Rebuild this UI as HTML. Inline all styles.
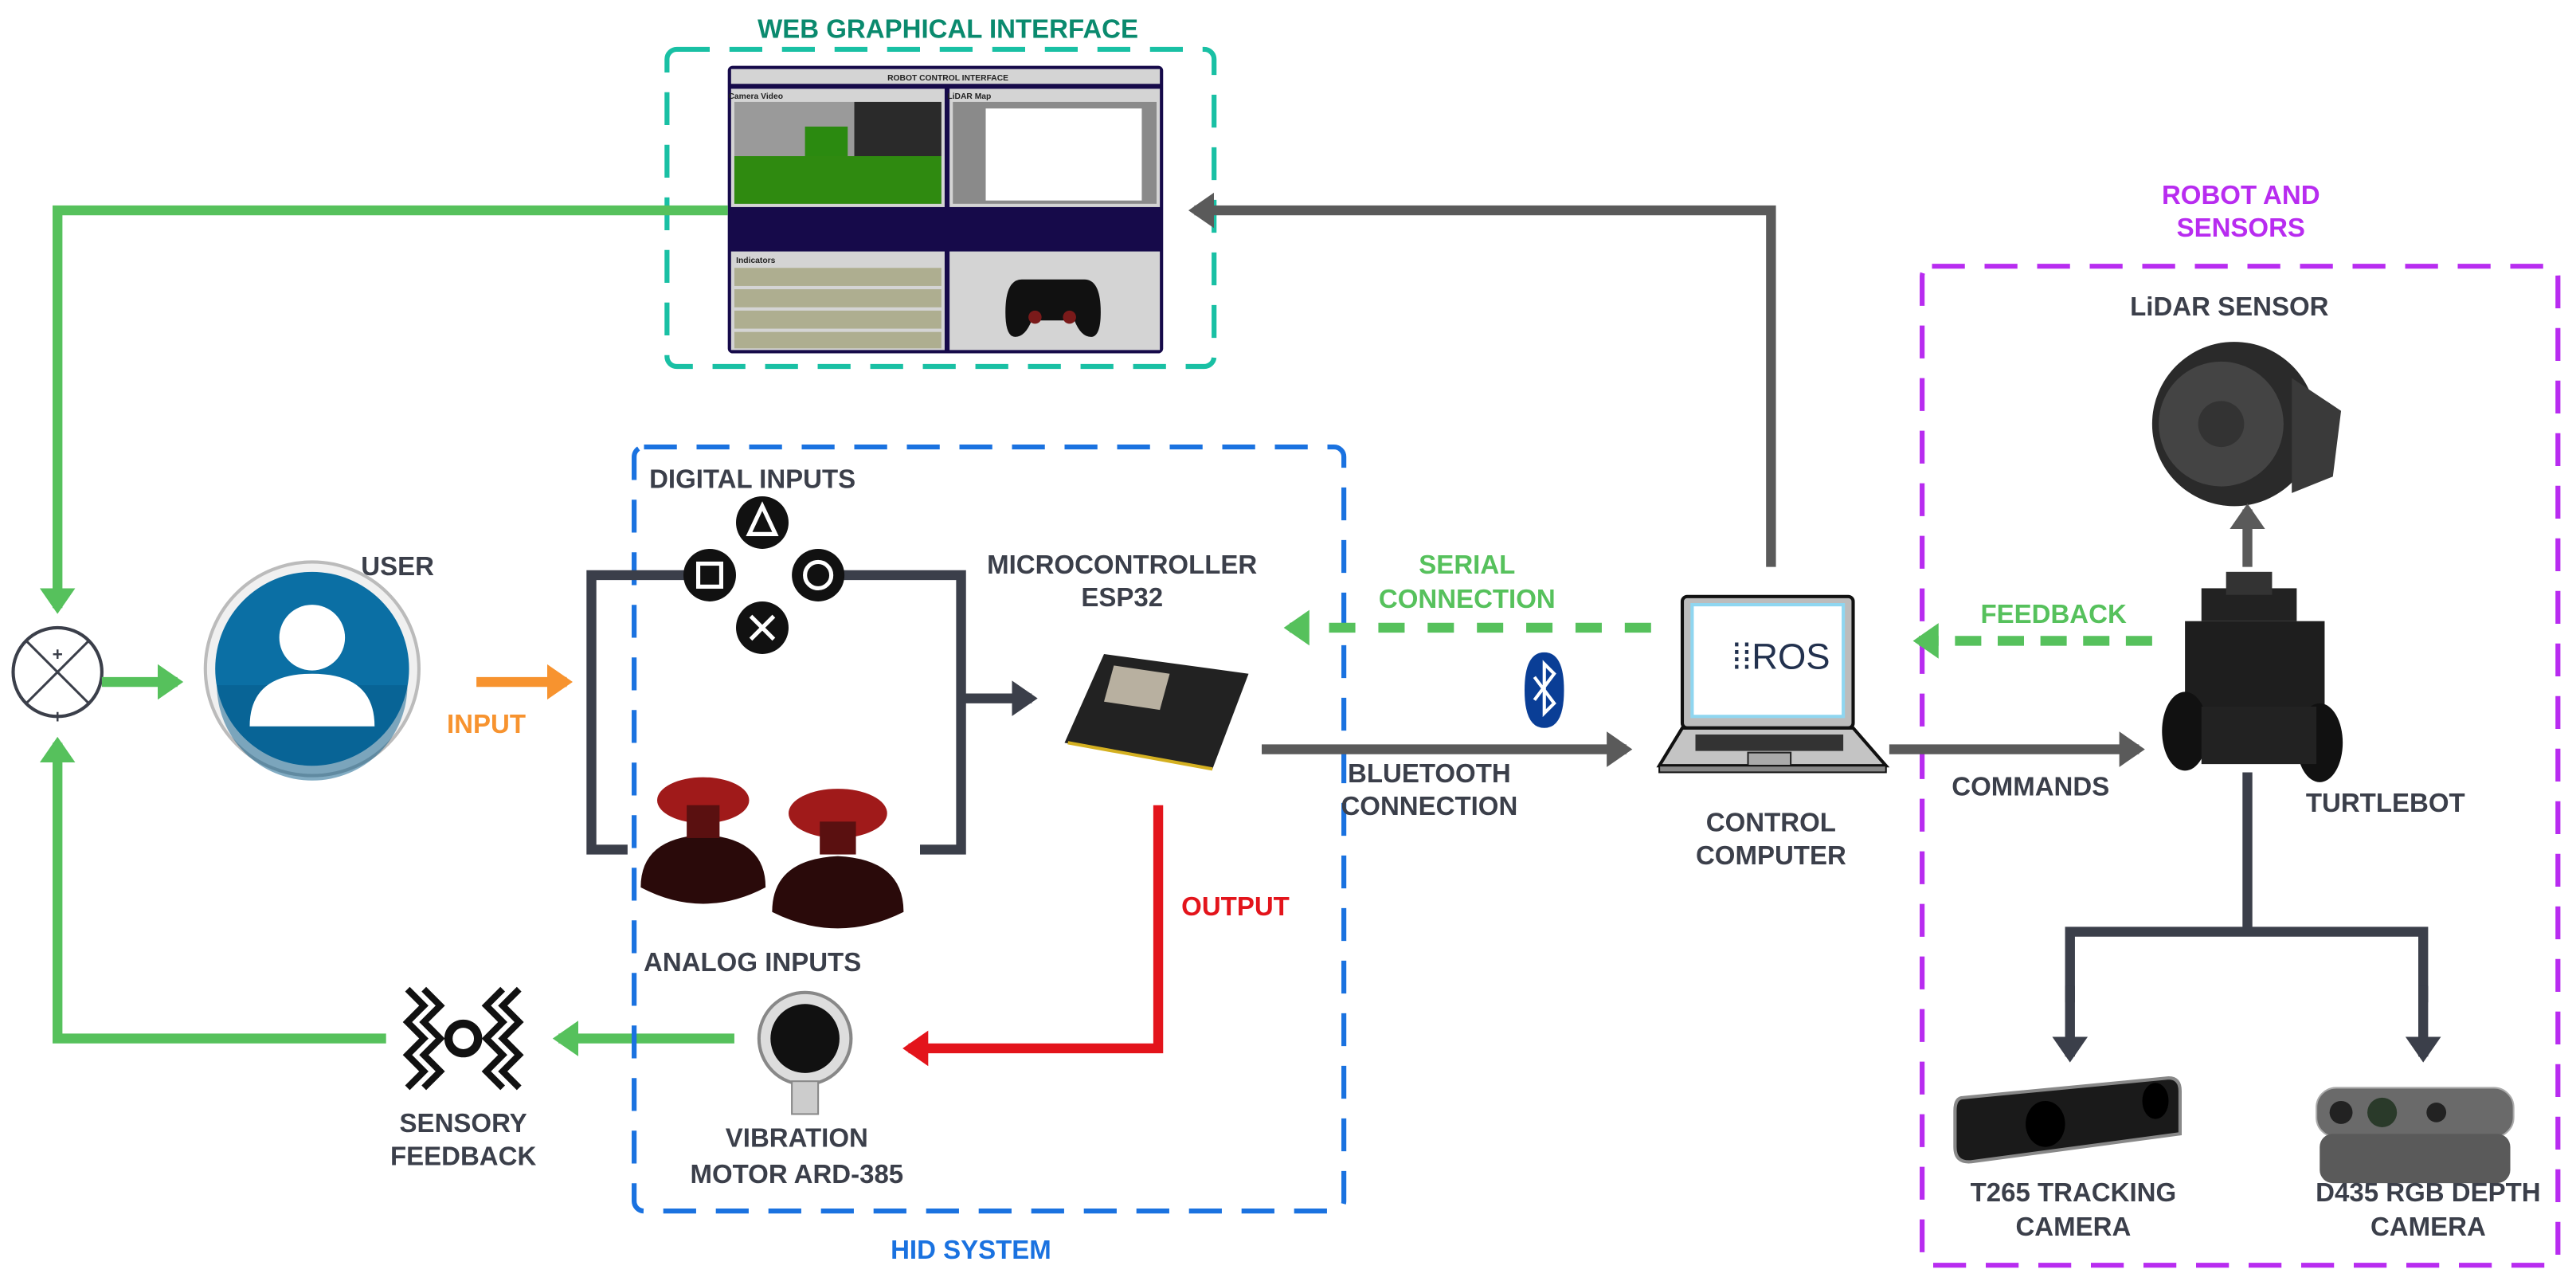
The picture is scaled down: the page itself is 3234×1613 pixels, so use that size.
<!DOCTYPE html>
<html><head><meta charset="utf-8"><style>
html,body{margin:0;padding:0;background:#fff;}
svg{display:block}
text{font-family:"Liberation Sans Narrow","Liberation Sans",sans-serif;font-weight:bold;font-size:16px;text-anchor:middle;fill:#3b3f4a}
</style></head><body>
<svg width="3234" height="1613" viewBox="0 0 1568 782" xmlns="http://www.w3.org/2000/svg">
<defs>
<marker id="ag" markerWidth="4" markerHeight="4" refX="2" refY="2" orient="auto" markerUnits="strokeWidth"><path d="M0,0.2 L2.6,2 L0,3.8Z" fill="#56c15c"/></marker>
<marker id="agr" markerWidth="4" markerHeight="4" refX="2" refY="2" orient="auto" markerUnits="strokeWidth"><path d="M0,0.2 L2.6,2 L0,3.8Z" fill="#5a5a5a"/></marker>
<marker id="ad" markerWidth="4" markerHeight="4" refX="2" refY="2" orient="auto" markerUnits="strokeWidth"><path d="M0,0.2 L2.6,2 L0,3.8Z" fill="#3b3f4a"/></marker>
<marker id="ao" markerWidth="4" markerHeight="4" refX="2" refY="2" orient="auto" markerUnits="strokeWidth"><path d="M0,0.2 L2.6,2 L0,3.8Z" fill="#f7932f"/></marker>
<marker id="ar" markerWidth="4" markerHeight="4" refX="2" refY="2" orient="auto" markerUnits="strokeWidth"><path d="M0,0.2 L2.6,2 L0,3.8Z" fill="#e3141b"/></marker>
</defs>

<!-- Web interface -->
<text x="577" y="23" style="fill:#0a8a6e">WEB GRAPHICAL INTERFACE</text>
<rect x="406" y="30" width="333" height="193" rx="6" fill="none" stroke="#19c0a4" stroke-width="3" stroke-dasharray="20,12"/>
<rect x="443" y="40" width="265" height="175" fill="#160a4a" rx="3"/>
<rect x="445" y="42" width="261" height="9" fill="#d4d4d4"/>
<text x="577" y="49" style="font-size:5px;fill:#222">ROBOT CONTROL INTERFACE</text>
<rect x="445" y="54" width="130" height="72" fill="#d4d4d4"/>
<rect x="447" y="62" width="126" height="62" fill="#9a9a9a"/>
<rect x="447" y="95" width="126" height="29" fill="#2f8a10"/>
<rect x="520" y="62" width="53" height="33" fill="#2a2a2a"/>
<rect x="490" y="77" width="26" height="18" fill="#2b8a10"/>
<rect x="578" y="54" width="128" height="72" fill="#d4d4d4"/>
<rect x="580" y="62" width="124" height="62" fill="#8a8a8a"/>
<rect x="600" y="66" width="95" height="56" fill="#fff"/>
<text x="460" y="60" style="font-size:5px;fill:#222">Camera Video</text>
<text x="590" y="60" style="font-size:5px;fill:#222">LiDAR Map</text>
<rect x="445" y="153" width="130" height="60" fill="#d4d4d4"/>
<rect x="447" y="163" width="126" height="11" fill="#aeae90"/>
<rect x="447" y="176" width="126" height="11" fill="#aeae90"/>
<rect x="447" y="189" width="126" height="11" fill="#aeae90"/>
<rect x="447" y="202" width="126" height="10" fill="#aeae90"/>
<text x="460" y="160" style="font-size:5px;fill:#222">Indicators</text>
<rect x="578" y="153" width="128" height="60" fill="#d4d4d4"/>
<path d="M622,170 h38 q10,0 10,20 q0,15 -6,15 q-6,0 -10,-10 h-26 q-4,10 -10,10 q-6,0 -6,-15 q0,-20 10,-20z" fill="#111"/>
<circle cx="630" cy="193" r="4" fill="#7a1a1a"/><circle cx="651" cy="193" r="4" fill="#7a1a1a"/>

<!-- green feedback loop -->
<polyline points="443,128 35,128 35,370" fill="none" stroke="#56c15c" stroke-width="6" marker-end="url(#ag)"/>
<polyline points="447,632 340,632" fill="none" stroke="#56c15c" stroke-width="6" marker-end="url(#ag)"/>
<polyline points="235,632 35,632 35,452" fill="none" stroke="#56c15c" stroke-width="6" marker-end="url(#ag)"/>
<circle cx="35" cy="409" r="27" fill="#fff" stroke="#3b3f4a" stroke-width="2"/>
<path d="M16,390 L54,428 M54,390 L16,428" stroke="#3b3f4a" stroke-width="1.5"/>
<text x="35" y="402" style="font-size:11px">+</text>
<text x="35" y="440" style="font-size:11px">+</text>
<line x1="62" y1="415" x2="108" y2="415" stroke="#56c15c" stroke-width="6" marker-end="url(#ag)"/>

<!-- user -->
<text x="242" y="350">USER</text>
<circle cx="190" cy="407" r="65" fill="#f0f0f0" stroke="#bbb" stroke-width="2"/>
<circle cx="190" cy="407" r="59" fill="#0b6fa4"/>
<path d="M190,407 m-58,10 a58,58 0 0 0 116,0z" fill="#065a88" opacity="0.5"/>
<circle cx="190" cy="388" r="20" fill="#fff"/>
<path d="M152,442 q0,-32 38,-32 q38,0 38,32z" fill="#fff"/>
<line x1="290" y1="415" x2="345" y2="415" stroke="#f7932f" stroke-width="6" marker-end="url(#ao)"/>
<text x="296" y="446" style="fill:#f7932f">INPUT</text>

<!-- HID -->
<rect x="386" y="272" width="432" height="465" rx="6" fill="none" stroke="#1a72e0" stroke-width="3" stroke-dasharray="20,12"/>
<text x="591" y="766" style="fill:#1a72e0">HID SYSTEM</text>
<text x="458" y="297">DIGITAL INPUTS</text>
<polyline points="420,350 360,350 360,517 382,517" fill="none" stroke="#3b3f4a" stroke-width="6"/>
<polyline points="498,350 585,350 585,517 560,517" fill="none" stroke="#3b3f4a" stroke-width="6"/>
<line x1="585" y1="425" x2="628" y2="425" stroke="#3b3f4a" stroke-width="6" marker-end="url(#ad)"/>
<circle cx="464" cy="318" r="16" fill="#111"/><path d="M464,308 L472,325 L456,325Z" fill="none" stroke="#fff" stroke-width="2.5"/>
<circle cx="432" cy="350" r="16" fill="#111"/><rect x="425" y="343" width="14" height="14" fill="none" stroke="#fff" stroke-width="2.5"/>
<circle cx="498" cy="350" r="16" fill="#111"/><circle cx="498" cy="350" r="8" fill="none" stroke="#fff" stroke-width="2.5"/>
<circle cx="464" cy="382" r="16" fill="#111"/><path d="M457,375 L471,389 M471,375 L457,389" stroke="#fff" stroke-width="2.5"/>
<!-- joysticks -->
<path d="M390,540 q0,-30 38,-32 q38,2 38,32 q-38,20 -76,0z" fill="#2a0a0a"/>
<ellipse cx="428" cy="487" rx="28" ry="14" fill="#a01a1a"/>
<rect x="418" y="490" width="20" height="20" fill="#5a1010"/>
<path d="M470,555 q0,-32 40,-34 q40,2 40,34 q-40,20 -80,0z" fill="#2a0a0a"/>
<ellipse cx="510" cy="495" rx="30" ry="15" fill="#a01a1a"/>
<rect x="499" y="500" width="22" height="20" fill="#5a1010"/>
<text x="458" y="591">ANALOG INPUTS</text>

<!-- ESP32 -->
<text x="683" y="349">MICROCONTROLLER</text>
<text x="683" y="369">ESP32</text>
<path d="M672,398 L760,410 L738,468 L648,452Z" fill="#222"/>
<path d="M678,405 L712,410 L706,432 L672,427Z" fill="#b8b0a0"/>
<path d="M650,452 L738,468" stroke="#d4b020" stroke-width="2"/>

<!-- serial & bluetooth -->
<text x="893" y="349" style="fill:#56c15c">SERIAL</text>
<text x="893" y="370" style="fill:#56c15c">CONNECTION</text>
<line x1="1005" y1="382" x2="785" y2="382" stroke="#56c15c" stroke-width="6" stroke-dasharray="16,14" marker-end="url(#ag)"/>
<path d="M928,420 q0,-23 12,-23 q12,0 12,23 q0,23 -12,23 q-12,0 -12,-23z" fill="#0a3e96"/>
<path d="M934,412 L946,428 L940,434 L940,404 L946,410 L934,426" fill="none" stroke="#fff" stroke-width="2"/>
<line x1="768" y1="456" x2="990" y2="456" stroke="#5a5a5a" stroke-width="6" marker-end="url(#agr)"/>
<text x="870" y="476">BLUETOOTH</text>
<text x="870" y="496">CONNECTION</text>

<!-- laptop -->
<rect x="1024" y="363" width="104" height="80" rx="3" fill="#bcbcbc" stroke="#111" stroke-width="2"/>
<rect x="1030" y="368" width="92" height="68" fill="#fff" stroke="#8fd6f0" stroke-width="2"/>
<text x="1084" y="407" style="font-size:22px;font-weight:normal;fill:#22314e">⁞⁞ROS</text>
<path d="M1024,443 L1128,443 L1148,466 L1010,466Z" fill="#c4c4c4" stroke="#111" stroke-width="2"/>
<rect x="1032" y="447" width="90" height="10" fill="#333"/>
<rect x="1064" y="458" width="26" height="8" fill="#aaa" stroke="#222"/>
<rect x="1010" y="466" width="138" height="4" fill="#888" stroke="#111"/>
<text x="1078" y="506">CONTROL</text>
<text x="1078" y="526">COMPUTER</text>
<polyline points="1078,345 1078,128 727,128" fill="none" stroke="#5a5a5a" stroke-width="6" marker-end="url(#agr)"/>

<!-- robot -->
<rect x="1170" y="162" width="387" height="608" rx="6" fill="none" stroke="#b82cf0" stroke-width="3" stroke-dasharray="20,12"/>
<text x="1364" y="124" style="fill:#b82cf0">ROBOT AND</text>
<text x="1364" y="144" style="fill:#b82cf0">SENSORS</text>
<text x="1357" y="192">LiDAR SENSOR</text>
<circle cx="1360" cy="258" r="50" fill="#2a2a2a"/>
<circle cx="1352" cy="258" r="38" fill="#444"/>
<circle cx="1352" cy="258" r="14" fill="#333"/>
<path d="M1395,230 L1425,250 L1420,290 L1395,300Z" fill="#3a3a3a"/>
<line x1="1368" y1="345" x2="1368" y2="310" stroke="#5a5a5a" stroke-width="6" marker-end="url(#agr)"/>
<rect x="1340" y="358" width="58" height="20" fill="#222"/>
<rect x="1355" y="348" width="28" height="14" fill="#333"/>
<rect x="1330" y="378" width="85" height="55" fill="#1e1e1e"/>
<ellipse cx="1330" cy="445" rx="14" ry="24" fill="#111"/>
<ellipse cx="1412" cy="452" rx="14" ry="24" fill="#111"/>
<rect x="1340" y="430" width="70" height="35" fill="#222"/>
<text x="1452" y="494">TURTLEBOT</text>
<text x="1250" y="379" style="fill:#56c15c">FEEDBACK</text>
<line x1="1310" y1="390" x2="1168" y2="390" stroke="#56c15c" stroke-width="6" stroke-dasharray="16,10" marker-end="url(#ag)"/>
<line x1="1150" y1="456" x2="1302" y2="456" stroke="#5a5a5a" stroke-width="6" marker-end="url(#agr)"/>
<text x="1236" y="484">COMMANDS</text>
<polyline points="1368,470 1368,567" fill="none" stroke="#3b3f4a" stroke-width="6"/>
<polyline points="1260,610 1260,567 1475,567 1475,610" fill="none" stroke="#3b3f4a" stroke-width="6"/>
<line x1="1260" y1="600" x2="1260" y2="643" stroke="#3b3f4a" stroke-width="6" marker-end="url(#ad)"/>
<line x1="1475" y1="600" x2="1475" y2="643" stroke="#3b3f4a" stroke-width="6" marker-end="url(#ad)"/>
<!-- cameras -->
<path d="M1195,668 L1320,656 Q1327,656 1327,664 L1327,690 L1200,707 Q1190,708 1190,698 L1190,676 Q1190,668 1195,668Z" fill="#1a1a1a" stroke="#888" stroke-width="2"/>
<ellipse cx="1245" cy="684" rx="12" ry="14" fill="#000"/>
<ellipse cx="1312" cy="670" rx="8" ry="11" fill="#000"/>
<rect x="1410" y="662" width="120" height="30" rx="12" fill="#6a6a6a" stroke="#aaa"/>
<rect x="1412" y="690" width="116" height="30" rx="8" fill="#5a5a5a"/>
<circle cx="1425" cy="677" r="7" fill="#222"/><circle cx="1450" cy="677" r="9" fill="#2a3a2a"/><circle cx="1483" cy="677" r="6" fill="#222"/>
<text x="1262" y="731">T265 TRACKING</text>
<text x="1262" y="752">CAMERA</text>
<text x="1478" y="731">D435 RGB DEPTH</text>
<text x="1478" y="752">CAMERA</text>

<!-- output -->
<polyline points="705,490 705,638 553,638" fill="none" stroke="#e3141b" stroke-width="6" marker-end="url(#ar)"/>
<text x="752" y="557" style="fill:#e3141b">OUTPUT</text>
<circle cx="490" cy="632" r="28" fill="#ddd" stroke="#888" stroke-width="2"/>
<circle cx="490" cy="632" r="21" fill="#111"/>
<rect x="482" y="658" width="16" height="20" fill="#ccc" stroke="#888"/>
<text x="485" y="698">VIBRATION</text>
<text x="485" y="720">MOTOR ARD-385</text>

<!-- sensory feedback icon -->
<circle cx="282" cy="632" r="9" fill="none" stroke="#111" stroke-width="5"/>
<path d="M248,602 l10,10 l-10,10 l10,10 l-10,10 l10,10 l-10,10 M258,602 l10,10 l-10,10 l10,10 l-10,10 l10,10 l-10,10" fill="none" stroke="#111" stroke-width="4"/>
<path d="M316,602 l-10,10 l10,10 l-10,10 l10,10 l-10,10 l10,10 M306,602 l-10,10 l10,10 l-10,10 l10,10 l-10,10 l10,10" fill="none" stroke="#111" stroke-width="4"/>
<text x="282" y="689">SENSORY</text>
<text x="282" y="709">FEEDBACK</text>
</svg>
</body></html>
